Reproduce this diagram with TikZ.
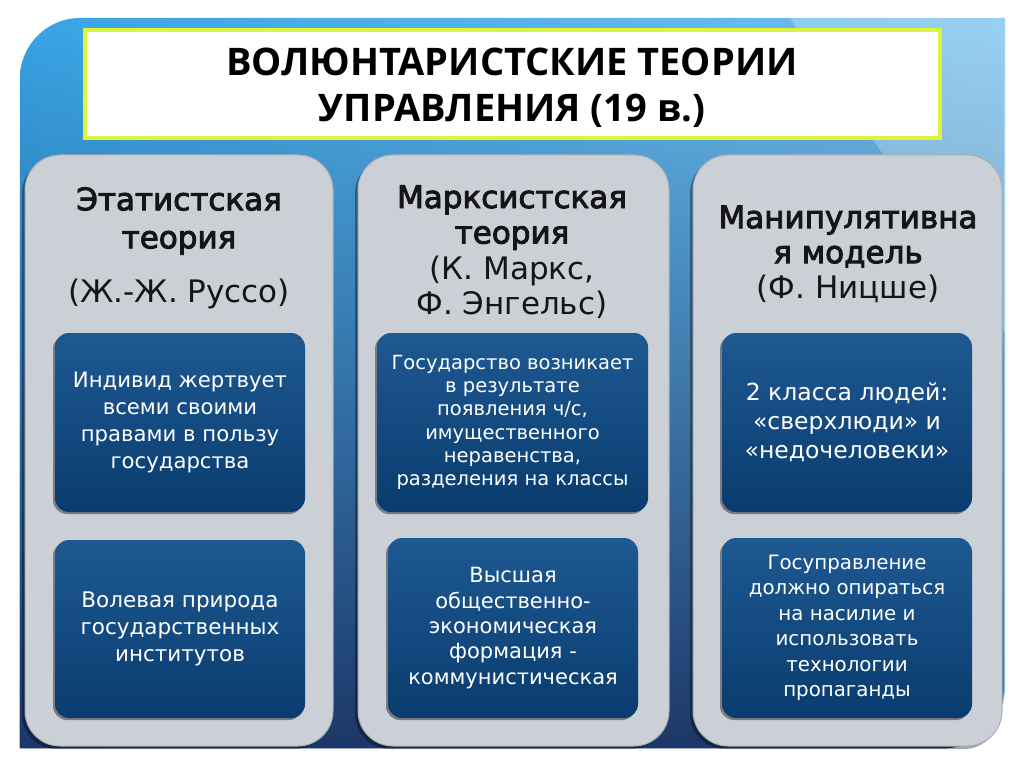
\documentclass[tikz,border=0pt]{standalone}
\usepackage{fontspec}
\setmainfont{DejaVu Sans}
\newfontfamily\titlefont{Open Sans}
\newfontfamily\hboldfont[FakeBold=3]{DejaVu Sans}
\usetikzlibrary{fadings,shadows}
\definecolor{bgleft}{HTML}{38A5E6}
\definecolor{bgright}{HTML}{78C3EF}
\definecolor{navy}{HTML}{1C3768}
\definecolor{colgray}{HTML}{CBCFD6}
\definecolor{colborder}{HTML}{A9AEB6}
\definecolor{innertop}{HTML}{1E5992}
\definecolor{innerbot}{HTML}{093C6E}
\definecolor{titleborder}{HTML}{DCF53A}
\definecolor{headtext}{HTML}{151515}
\tikzfading[name=fadedown, top color=transparent!100, middle color=transparent!50, bottom color=transparent!0]
\tikzset{
  titlebox/.style={draw=titleborder, line width=3.5pt, fill=white, minimum width=855pt, minimum height=108pt, inner sep=0pt},
  titletxt/.style={align=center, inner sep=0pt, font=\titlefont\bfseries\fontsize{38}{46}\selectfont, text=black},
  colbox/.style={fill=colgray, draw=colborder, line width=1pt, rounded corners=35pt, inner sep=0pt,
    drop shadow={shadow xshift=-3pt, shadow yshift=-3pt, opacity=0.35, fill=black}},
  headtxt/.style={align=center, inner sep=0pt, text=headtext},
  innerbox/.style={rounded corners=14pt, top color=innertop, bottom color=innerbot, draw=none, text=white,
    align=center, inner sep=0pt, drop shadow={shadow xshift=-2pt, shadow yshift=-2pt, opacity=0.4, fill=black}}
}
\begin{document}
\begin{tikzpicture}[x=1pt,y=-1pt]
\useasboundingbox (0,0) rectangle (1024,767);
\fill[white] (0,0) rectangle (1024,767);
% background panel
\path[left color=bgleft, right color=bgright] (20,748) -- (20,78) .. controls (20,45) and (47,18) .. (80,18) -- (1005,18) -- (1005,688) .. controls (1005,721) and (978,748) .. (945,748) -- cycle;
\fill[navy, path fading=fadedown] (20,748) -- (20,78) .. controls (20,45) and (47,18) .. (80,18) -- (1005,18) -- (1005,688) .. controls (1005,721) and (978,748) .. (945,748) -- cycle;
\fill[white, opacity=0.25] (790,18) -- (1005,18) -- (1005,333) -- cycle;
% title
\node[titlebox] (title) at (512.5,84) {};
\node[titletxt] (titletext) at (512,88) {ВОЛЮНТАРИСТСКИЕ ТЕОРИИ\\УПРАВЛЕНИЯ (19 в.)};
% columns
\node[colbox, minimum width=308pt, minimum height=591pt] (col1) at (179,450.5) {};
\node[colbox, minimum width=311pt, minimum height=591pt] (col2) at (513.5,450.5) {};
\node[colbox, minimum width=309pt, minimum height=591pt] (col3) at (847.5,450.5) {};
% headings
\node[headtxt, font=\fontsize{31}{38}\selectfont] (h1) at (179,248) {{\hboldfont Этатистская}\\{\hboldfont теория}\\[16pt](Ж.-Ж. Руссо)};
\node[headtxt, font=\fontsize{31}{35.5}\selectfont] (h2) at (512,252) {{\hboldfont Марксистская}\\{\hboldfont теория}\\(К. Маркс,\\Ф. Энгельс)};
\node[headtxt, font=\fontsize{31}{35}\selectfont] (h3) at (848,254) {{\hboldfont Манипулятивна}\\{\hboldfont я модель}\\(Ф. Ницше)};
% inner boxes
\node[innerbox, minimum width=250pt, minimum height=179pt, font=\fontsize{21.2}{27}\selectfont] (b11) at (180,422.5) {Индивид жертвует\\всеми своими\\правами в пользу\\государства};
\node[innerbox, minimum width=250pt, minimum height=178pt, font=\fontsize{21.5}{27}\selectfont] (b12) at (180,629) {Волевая природа\\государственных\\институтов};
\node[innerbox, minimum width=271pt, minimum height=179pt, font=\fontsize{19.5}{23.3}\selectfont] (b21) at (512.5,422.5) {Государство возникает\\в результате\\появления ч/с,\\имущественного\\неравенства,\\разделения на классы};
\node[innerbox, minimum width=250pt, minimum height=180pt, font=\fontsize{21}{25.4}\selectfont] (b22) at (513,628) {Высшая\\общественно-\\экономическая\\формация -\\коммунистическая};
\node[innerbox, minimum width=250pt, minimum height=179pt, font=\fontsize{23.5}{29}\selectfont] (b31) at (847,422.5) {2 класса людей:\\«сверхлюди» и\\«недочеловеки»};
\node[innerbox, minimum width=250pt, minimum height=180pt, font=\fontsize{19.8}{25.5}\selectfont] (b32) at (847,628) {Госуправление\\должно опираться\\на насилие и\\использовать\\технологии\\пропаганды};
\end{tikzpicture}
\end{document}
